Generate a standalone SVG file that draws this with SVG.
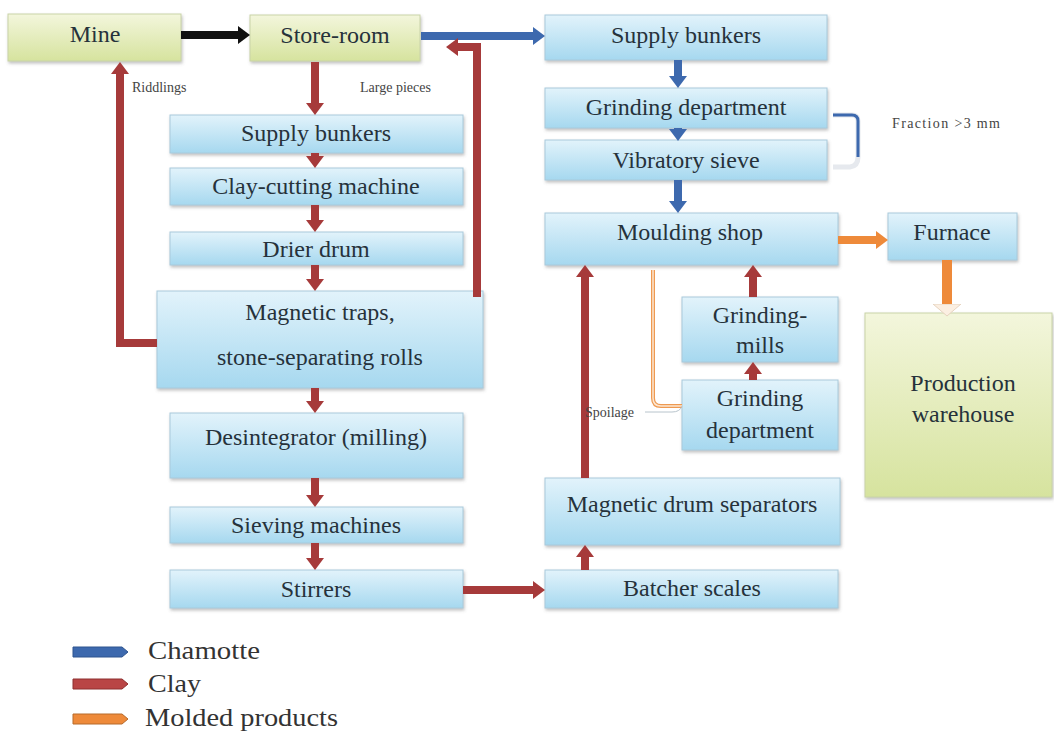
<svg xmlns="http://www.w3.org/2000/svg" width="1054" height="733" viewBox="0 0 1054 733">
<defs>
<linearGradient id="gBlue" x1="0" y1="0" x2="0" y2="1">
<stop offset="0" stop-color="#E2F3FB"/>
<stop offset="1" stop-color="#A6D8EF"/>
</linearGradient>
<linearGradient id="gGreen" x1="0" y1="0" x2="0" y2="1">
<stop offset="0" stop-color="#F3F6DC"/>
<stop offset="1" stop-color="#D6E39E"/>
</linearGradient>
<filter id="sh" x="-5%" y="-10%" width="110%" height="130%">
<feDropShadow dx="1" dy="2" stdDeviation="1.5" flood-color="#777" flood-opacity="0.45"/>
</filter>
<marker id="hRed" viewBox="0 0 12 18" markerWidth="12" markerHeight="18" refX="0" refY="9" orient="auto" markerUnits="userSpaceOnUse"><path d="M0,0 L12,9 L0,18z" fill="#A63A3A"/></marker>
<marker id="hBlue" viewBox="0 0 12 18" markerWidth="12" markerHeight="18" refX="0" refY="9" orient="auto" markerUnits="userSpaceOnUse"><path d="M0,0 L12,9 L0,18z" fill="#3D69AE"/></marker>
<marker id="hBlack" viewBox="0 0 12 18" markerWidth="12" markerHeight="18" refX="0" refY="9" orient="auto" markerUnits="userSpaceOnUse"><path d="M0,0 L12,9 L0,18z" fill="#111"/></marker>
<marker id="hOrange" viewBox="0 0 12 18" markerWidth="12" markerHeight="18" refX="0" refY="9" orient="auto" markerUnits="userSpaceOnUse"><path d="M0,0 L12,9 L0,18z" fill="#EE8A3A"/></marker>
<marker id="hPale" viewBox="0 0 13 30" markerWidth="13" markerHeight="30" refX="0" refY="15" orient="auto" markerUnits="userSpaceOnUse"><path d="M0,1 L12,15 L0,29z" fill="#FBEFE2" stroke="#E6D3BF" stroke-width="1"/></marker>
</defs>
<style>
.bx{fill:url(#gBlue);stroke:#A9CADB;stroke-width:1;filter:url(#sh)}
.gx{fill:url(#gGreen);stroke:#C9D3A8;stroke-width:1;filter:url(#sh)}
.t{font-family:"Liberation Serif","Times New Roman",serif;font-size:24px;fill:#26323B;text-anchor:middle}
.s{font-family:"Liberation Serif","Times New Roman",serif;font-size:14px;fill:#444}
.lg{font-family:"Liberation Serif","Times New Roman",serif;font-size:25px;fill:#333}
.red{stroke:#A63A3A;stroke-width:8;fill:none;marker-end:url(#hRed)}
.blue{stroke:#3D69AE;stroke-width:8;fill:none;marker-end:url(#hBlue)}
.blk{stroke:#111;stroke-width:8;fill:none;marker-end:url(#hBlack)}
.org{stroke:#EE8A3A;stroke-width:8;fill:none}
</style>
<rect width="1054" height="733" fill="#FFFFFF"/>

<g id="mine"><rect class="gx" x="8" y="14" width="173" height="47"/><text class="t" x="95" y="42">Mine</text></g>
<g id="store-room"><rect class="gx" x="250" y="15" width="170" height="46"/><text class="t" x="335" y="43">Store-room</text></g>
<g id="supply-bunkers-clay"><rect class="bx" x="170" y="115" width="293" height="38"/><text class="t" x="316" y="141">Supply bunkers</text></g>
<g id="clay-cutting"><rect class="bx" x="170" y="168" width="293" height="37"/><text class="t" x="316" y="194">Clay-cutting machine</text></g>
<g id="drier-drum"><rect class="bx" x="170" y="232" width="293" height="33"/><text class="t" x="316" y="257">Drier drum</text></g>
<g id="magnetic-traps"><rect class="bx" x="157" y="291" width="326" height="97"/><text class="t" x="320" y="320">Magnetic traps,</text><text class="t" x="320" y="365">stone-separating rolls</text></g>
<g id="desintegrator"><rect class="bx" x="170" y="413" width="293" height="65"/><text class="t" x="316" y="445">Desintegrator (milling)</text></g>
<g id="sieving"><rect class="bx" x="170" y="507" width="293" height="36"/><text class="t" x="316" y="533">Sieving machines</text></g>
<g id="stirrers"><rect class="bx" x="170" y="570" width="293" height="38"/><text class="t" x="316" y="597">Stirrers</text></g>

<g id="supply-bunkers-chamotte"><rect class="bx" x="545" y="15" width="282" height="45"/><text class="t" x="686" y="43">Supply bunkers</text></g>
<g id="grinding-department-1"><rect class="bx" x="545" y="88" width="282" height="40"/><text class="t" x="686" y="115">Grinding department</text></g>
<g id="vibratory-sieve"><rect class="bx" x="545" y="140" width="282" height="40"/><text class="t" x="686" y="168">Vibratory sieve</text></g>
<g id="moulding-shop"><rect class="bx" x="545" y="213" width="293" height="52"/><text class="t" x="690" y="240">Moulding shop</text></g>
<g id="furnace"><rect class="bx" x="888" y="213" width="129" height="47"/><text class="t" x="952" y="240">Furnace</text></g>
<g id="production-warehouse"><rect class="gx" x="865" y="313" width="187" height="184"/><text class="t" x="963" y="391">Production</text><text class="t" x="963" y="422">warehouse</text></g>
<g id="grinding-mills"><rect class="bx" x="682" y="297" width="156" height="65"/><text class="t" x="760" y="323">Grinding-</text><text class="t" x="760" y="353">mills</text></g>
<g id="grinding-department-2"><rect class="bx" x="682" y="380" width="156" height="70"/><text class="t" x="760" y="406">Grinding</text><text class="t" x="760" y="438">department</text></g>
<g id="magnetic-drum"><rect class="bx" x="545" y="478" width="295" height="67"/><text class="t" x="692" y="512">Magnetic drum separators</text></g>
<g id="batcher"><rect class="bx" x="545" y="570" width="293" height="38"/><text class="t" x="692" y="596">Batcher scales</text></g>

<g id="connectors">
<path class="blk" d="M181,35 H238"/>
<path class="blue" d="M421,36 H533"/>
<path class="red" d="M315,62 V103"/>
<path class="red" d="M315,153 V156"/>
<path class="red" d="M315,205 V220"/>
<path class="red" d="M315,265 V279"/>
<path class="red" d="M315,388 V401"/>
<path class="red" d="M315,478 V495"/>
<path class="red" d="M315,543 V558"/>
<path class="red" d="M157,343 H120 V74"/>
<path class="red" d="M477,297 V47 H458"/>
<path class="red" d="M463,590 H533"/>
<path class="red" d="M585,570 V557"/>
<path class="red" d="M585,478 V277"/>
<path class="red" d="M753,380 V374"/>
<path class="red" d="M753,297 V277"/>
<path class="blue" d="M678,60 V76"/>
<path class="blue" d="M678,128 V129"/>
<path class="blue" d="M678,180 V201"/>
<path class="org" d="M838,240 H876" style="marker-end:url(#hOrange)"/>
<path class="org" d="M947,260 V304" style="stroke-width:10;marker-end:url(#hPale)"/>
<path d="M833,115 H852 Q858,115 858,121 V157 Q858,166 850,167 H833" fill="none" stroke="#E6E9EE" stroke-width="5"/>
<path d="M833,115 H852 Q858,115 858,121 V157" fill="none" stroke="#3D69AE" stroke-width="3"/>
<path d="M653,270 V398 Q653,406 661,406 H682" fill="none" stroke="#EE9A52" stroke-width="4"/>
<path d="M653,270 V398 Q653,406 661,406 H682" fill="none" stroke="#FDE7D2" stroke-width="1.5"/>
<path d="M645,412 H672 Q680,412 682,406" fill="none" stroke="#B8C4CC" stroke-width="1"/>
</g>

<g id="labels">
<text class="s" x="132" y="92">Riddlings</text>
<text class="s" x="360" y="92">Large pieces</text>
<text class="s" x="892" y="128" textLength="108">Fraction &gt;3 mm</text>
<text class="s" x="585" y="417">Spoilage</text>
</g>

<g id="legend">
<path d="M73,647 H122 L128,652 L122,657 H73 Z" fill="#3D69AE" stroke="#2F558F" stroke-width="1"/>
<path d="M73,679 H122 L128,684 L122,689 H73 Z" fill="#B94545" stroke="#8E3030" stroke-width="1"/>
<path d="M73,714 H122 L128,719 L122,724 H73 Z" fill="#EE8A3A" stroke="#B76A2B" stroke-width="1"/>
<text class="lg" x="148" y="659" textLength="112" lengthAdjust="spacingAndGlyphs">Chamotte</text>
<text class="lg" x="148" y="692" textLength="53" lengthAdjust="spacingAndGlyphs">Clay</text>
<text class="lg" x="145" y="726" textLength="193" lengthAdjust="spacingAndGlyphs">Molded products</text>
</g>
</svg>
